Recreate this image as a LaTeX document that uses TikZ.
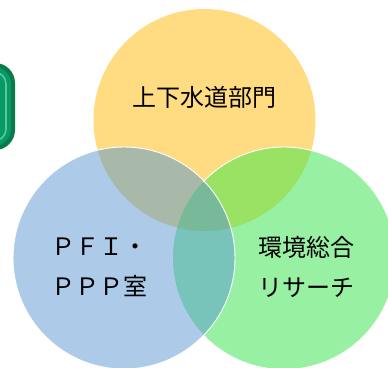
\documentclass[tikz,border=0pt]{standalone}
\usepackage{fontspec}
\setmainfont{Noto Sans CJK JP}
\definecolor{venyellow}{HTML}{FFDC82}
\definecolor{venblue}{HTML}{ADCBE8}
\definecolor{vengreen}{HTML}{98F0A2}
\definecolor{venyb}{HTML}{A9B9A9}
\definecolor{venyg}{HTML}{99E263}
\definecolor{venbg}{HTML}{78C4BA}
\definecolor{venybg}{HTML}{78B99A}
\definecolor{badgedark}{HTML}{0B7A4A}
\definecolor{badgemid}{HTML}{079A68}
\definecolor{badgelight}{HTML}{58C897}
\tikzset{
  venn text/.style={font=\fontsize{24}{40}\selectfont, inner sep=0pt, align=center},
  rim/.style={draw=white, line width=0.9pt},
}
\begin{document}
\begin{tikzpicture}[x=1pt,y=-1pt]
  \useasboundingbox (0,0) rectangle (388,367);
  \clip (0,0) rectangle (388,367);
  % badge cut off at the left edge
  \fill[badgedark, rounded corners=20pt] (-45,63) rectangle (15,150);
  \fill[badgemid, rounded corners=17pt] (-45,67) rectangle (11,146);
  \draw[badgelight, line width=1.6pt, rounded corners=12pt] (-10,72) -- (6,72) -- (6,141) -- (-10,141);
  % circles
  \def\rad{111}
  \coordinate (top) at (204.5,120);
  \coordinate (left) at (124,258);
  \coordinate (right) at (284,258);
  \fill[venyellow] (top) circle (\rad);
  \fill[vengreen] (right) circle (\rad);
  \fill[venblue] (left) circle (\rad);
  \begin{scope}
    \clip (top) circle (\rad);
    \fill[venyb] (left) circle (\rad);
    \fill[venyg] (right) circle (\rad);
  \end{scope}
  \begin{scope}
    \clip (left) circle (\rad);
    \fill[venbg] (right) circle (\rad);
    \clip (top) circle (\rad);
    \fill[venybg] (right) circle (\rad);
  \end{scope}
  % white rims
  \draw[rim] (right) ++(223.2:\rad) arc (223.2:300:\rad);
  \draw[rim] (left) circle (\rad);
  % labels
  \node[venn text] (water) at (204,97) {上下水道部門};
  \node[venn text, anchor=west, align=left] (pfi) at (51,267) {ＰＦＩ・\\ＰＰＰ室};
  \node[venn text] (env) at (306,267) {環境総合\\リサーチ};
\end{tikzpicture}
\end{document}
